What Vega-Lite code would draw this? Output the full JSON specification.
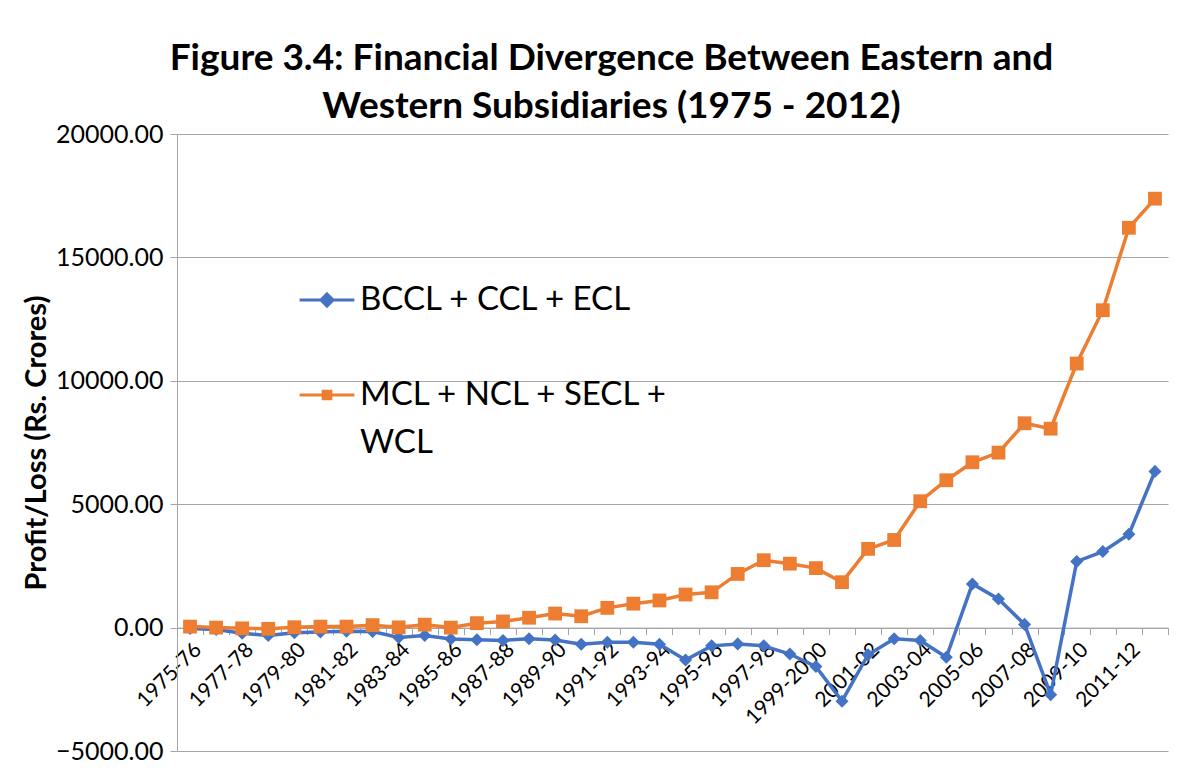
{
  "$schema": "https://vega.github.io/schema/vega-lite/v6.json",
  "autosize": "none",
  "width": 991,
  "height": 617,
  "padding": {"left": 177, "top": 134, "right": 30, "bottom": 23},
  "background": "white",
  "config": {"view": {"stroke": null}, "font": "Lato"},
  "title": {
    "text": ["Figure 3.4: Financial Divergence Between Eastern and", "Western Subsidiaries (1975 - 2012)"],
    "font": "Lato", "fontSize": 37, "fontWeight": "bold", "color": "black",
    "lineHeight": 48, "offset": -4, "anchor": "middle", "dx": -61
  },
  "data": {"values": [
    {"year": "1975-76", "series": "BCCL + CCL + ECL", "value": -40},
    {"year": "1976-77", "series": "BCCL + CCL + ECL", "value": -80},
    {"year": "1977-78", "series": "BCCL + CCL + ECL", "value": -230},
    {"year": "1978-79", "series": "BCCL + CCL + ECL", "value": -320},
    {"year": "1979-80", "series": "BCCL + CCL + ECL", "value": -210},
    {"year": "1980-81", "series": "BCCL + CCL + ECL", "value": -180},
    {"year": "1981-82", "series": "BCCL + CCL + ECL", "value": -150},
    {"year": "1982-83", "series": "BCCL + CCL + ECL", "value": -160},
    {"year": "1983-84", "series": "BCCL + CCL + ECL", "value": -400},
    {"year": "1984-85", "series": "BCCL + CCL + ECL", "value": -320},
    {"year": "1985-86", "series": "BCCL + CCL + ECL", "value": -460},
    {"year": "1986-87", "series": "BCCL + CCL + ECL", "value": -490},
    {"year": "1987-88", "series": "BCCL + CCL + ECL", "value": -520},
    {"year": "1988-89", "series": "BCCL + CCL + ECL", "value": -450},
    {"year": "1989-90", "series": "BCCL + CCL + ECL", "value": -500},
    {"year": "1990-91", "series": "BCCL + CCL + ECL", "value": -675},
    {"year": "1991-92", "series": "BCCL + CCL + ECL", "value": -590},
    {"year": "1992-93", "series": "BCCL + CCL + ECL", "value": -590},
    {"year": "1993-94", "series": "BCCL + CCL + ECL", "value": -675},
    {"year": "1994-95", "series": "BCCL + CCL + ECL", "value": -1310},
    {"year": "1995-96", "series": "BCCL + CCL + ECL", "value": -740},
    {"year": "1996-97", "series": "BCCL + CCL + ECL", "value": -660},
    {"year": "1997-98", "series": "BCCL + CCL + ECL", "value": -740},
    {"year": "1998-99", "series": "BCCL + CCL + ECL", "value": -1070},
    {"year": "1999-2000", "series": "BCCL + CCL + ECL", "value": -1580},
    {"year": "2000-01", "series": "BCCL + CCL + ECL", "value": -2980},
    {"year": "2001-02", "series": "BCCL + CCL + ECL", "value": -1100},
    {"year": "2002-03", "series": "BCCL + CCL + ECL", "value": -450},
    {"year": "2003-04", "series": "BCCL + CCL + ECL", "value": -520},
    {"year": "2004-05", "series": "BCCL + CCL + ECL", "value": -1200},
    {"year": "2005-06", "series": "BCCL + CCL + ECL", "value": 1770},
    {"year": "2006-07", "series": "BCCL + CCL + ECL", "value": 1160},
    {"year": "2007-08", "series": "BCCL + CCL + ECL", "value": 130},
    {"year": "2008-09", "series": "BCCL + CCL + ECL", "value": -2720},
    {"year": "2009-10", "series": "BCCL + CCL + ECL", "value": 2680},
    {"year": "2010-11", "series": "BCCL + CCL + ECL", "value": 3080},
    {"year": "2011-12", "series": "BCCL + CCL + ECL", "value": 3780},
    {"year": "2012-13", "series": "BCCL + CCL + ECL", "value": 6330},
    {"year": "1975-76", "series": "MCL + NCL + SECL + WCL", "value": 40},
    {"year": "1976-77", "series": "MCL + NCL + SECL + WCL", "value": 0},
    {"year": "1977-78", "series": "MCL + NCL + SECL + WCL", "value": -30},
    {"year": "1978-79", "series": "MCL + NCL + SECL + WCL", "value": -50},
    {"year": "1979-80", "series": "MCL + NCL + SECL + WCL", "value": 15},
    {"year": "1980-81", "series": "MCL + NCL + SECL + WCL", "value": 40},
    {"year": "1981-82", "series": "MCL + NCL + SECL + WCL", "value": 40},
    {"year": "1982-83", "series": "MCL + NCL + SECL + WCL", "value": 100},
    {"year": "1983-84", "series": "MCL + NCL + SECL + WCL", "value": 10},
    {"year": "1984-85", "series": "MCL + NCL + SECL + WCL", "value": 120},
    {"year": "1985-86", "series": "MCL + NCL + SECL + WCL", "value": 0},
    {"year": "1986-87", "series": "MCL + NCL + SECL + WCL", "value": 180},
    {"year": "1987-88", "series": "MCL + NCL + SECL + WCL", "value": 250},
    {"year": "1988-89", "series": "MCL + NCL + SECL + WCL", "value": 400},
    {"year": "1989-90", "series": "MCL + NCL + SECL + WCL", "value": 570},
    {"year": "1990-91", "series": "MCL + NCL + SECL + WCL", "value": 460},
    {"year": "1991-92", "series": "MCL + NCL + SECL + WCL", "value": 800},
    {"year": "1992-93", "series": "MCL + NCL + SECL + WCL", "value": 970},
    {"year": "1993-94", "series": "MCL + NCL + SECL + WCL", "value": 1100},
    {"year": "1994-95", "series": "MCL + NCL + SECL + WCL", "value": 1340},
    {"year": "1995-96", "series": "MCL + NCL + SECL + WCL", "value": 1430},
    {"year": "1996-97", "series": "MCL + NCL + SECL + WCL", "value": 2175},
    {"year": "1997-98", "series": "MCL + NCL + SECL + WCL", "value": 2730},
    {"year": "1998-99", "series": "MCL + NCL + SECL + WCL", "value": 2590},
    {"year": "1999-2000", "series": "MCL + NCL + SECL + WCL", "value": 2410},
    {"year": "2000-01", "series": "MCL + NCL + SECL + WCL", "value": 1840},
    {"year": "2001-02", "series": "MCL + NCL + SECL + WCL", "value": 3190},
    {"year": "2002-03", "series": "MCL + NCL + SECL + WCL", "value": 3550},
    {"year": "2003-04", "series": "MCL + NCL + SECL + WCL", "value": 5120},
    {"year": "2004-05", "series": "MCL + NCL + SECL + WCL", "value": 5970},
    {"year": "2005-06", "series": "MCL + NCL + SECL + WCL", "value": 6700},
    {"year": "2006-07", "series": "MCL + NCL + SECL + WCL", "value": 7090},
    {"year": "2007-08", "series": "MCL + NCL + SECL + WCL", "value": 8280},
    {"year": "2008-09", "series": "MCL + NCL + SECL + WCL", "value": 8060},
    {"year": "2009-10", "series": "MCL + NCL + SECL + WCL", "value": 10700},
    {"year": "2010-11", "series": "MCL + NCL + SECL + WCL", "value": 12860},
    {"year": "2011-12", "series": "MCL + NCL + SECL + WCL", "value": 16200},
    {"year": "2012-13", "series": "MCL + NCL + SECL + WCL", "value": 17380}
  ]},
  "encoding": {
    "x": {
      "field": "year", "type": "nominal", "sort": null, "bandPosition": 0.5,
      "scale": {"type": "band", "paddingInner": 0, "paddingOuter": 0},
      "axis": {
        "title": null, "offset": -123.4, "domainColor": "#A6A6A6", "domainWidth": 1,
        "tickColor": "#A6A6A6", "tickSize": 7, "tickBand": "extent",
        "labelAngle": -45, "labelFont": "Lato", "labelFontSize": 21, "labelColor": "black",
        "labelPadding": 4, "labelOverlap": false,
        "labelExpr": "toNumber(substring(datum.label, 0, 4)) % 2 == 1 ? datum.label : ''"
      }
    },
    "y": {
      "field": "value", "type": "quantitative",
      "scale": {"domain": [-5000, 20000], "nice": false, "zero": false},
      "axis": {
        "values": [-5000, 0, 5000, 10000, 15000, 20000], "format": ".2f",
        "title": "Profit/Loss (Rs. Crores)", "titleFont": "Lato", "titleFontSize": 29,
        "titleFontWeight": "bold", "titleColor": "black", "titlePadding": 4,
        "labelFont": "Lato", "labelFontSize": 25, "labelColor": "black", "labelPadding": 7,
        "domainColor": "#A6A6A6", "tickColor": "#A6A6A6", "tickSize": 7,
        "gridColor": "#A6A6A6", "gridWidth": 1
      }
    }
  },
  "layer": [
    {
      "mark": {"type": "line", "strokeWidth": 3.5},
      "encoding": {
        "color": {
          "field": "series", "type": "nominal",
          "scale": {"domain": ["BCCL + CCL + ECL", "MCL + NCL + SECL + WCL"], "range": ["#4472C4", "#ED7D31"]},
          "legend": {
            "orient": "none", "legendX": 121, "legendY": 137, "title": null, "padding": 0,
            "labelFont": "Lato", "labelFontSize": 33, "labelColor": "black",
            "symbolSize": 3000, "symbolStrokeWidth": 3, "rowPadding": 49, "labelOffset": 4, "labelLimit": 600,
            "labelExpr": "datum.label == 'MCL + NCL + SECL + WCL' ? ['MCL + NCL + SECL +', 'WCL'] : datum.label",
            "encode": {
              "symbols": {"update": {
                "shape": {"signal": "datum.value == 'BCCL + CCL + ECL' ? 'M-1,0L1,0M0,-0.22L0.22,0L0,0.22L-0.22,0Z' : 'M-1,0L1,0M-0.14,-0.14L0.14,-0.14L0.14,0.14L-0.14,0.14Z'"},
                "strokeWidth": {"value": 3},
                "stroke": {"signal": "scale('color', datum.value)"},
                "fill": {"signal": "scale('color', datum.value)"},
                "opacity": {"value": 1}
              }},
              "labels": {"update": {
                "lineHeight": {"value": 48}
              }}
            }
          }
        }
      }
    },
    {
      "transform": [{"filter": "datum.series == 'BCCL + CCL + ECL'"}],
      "mark": {"type": "point", "filled": true, "opacity": 1, "shape": "diamond", "color": "#4472C4", "size": 170}
    },
    {
      "transform": [{"filter": "datum.series == 'MCL + NCL + SECL + WCL'"}],
      "mark": {"type": "point", "filled": true, "opacity": 1, "shape": "square", "color": "#ED7D31", "size": 190}
    }
  ]
}
